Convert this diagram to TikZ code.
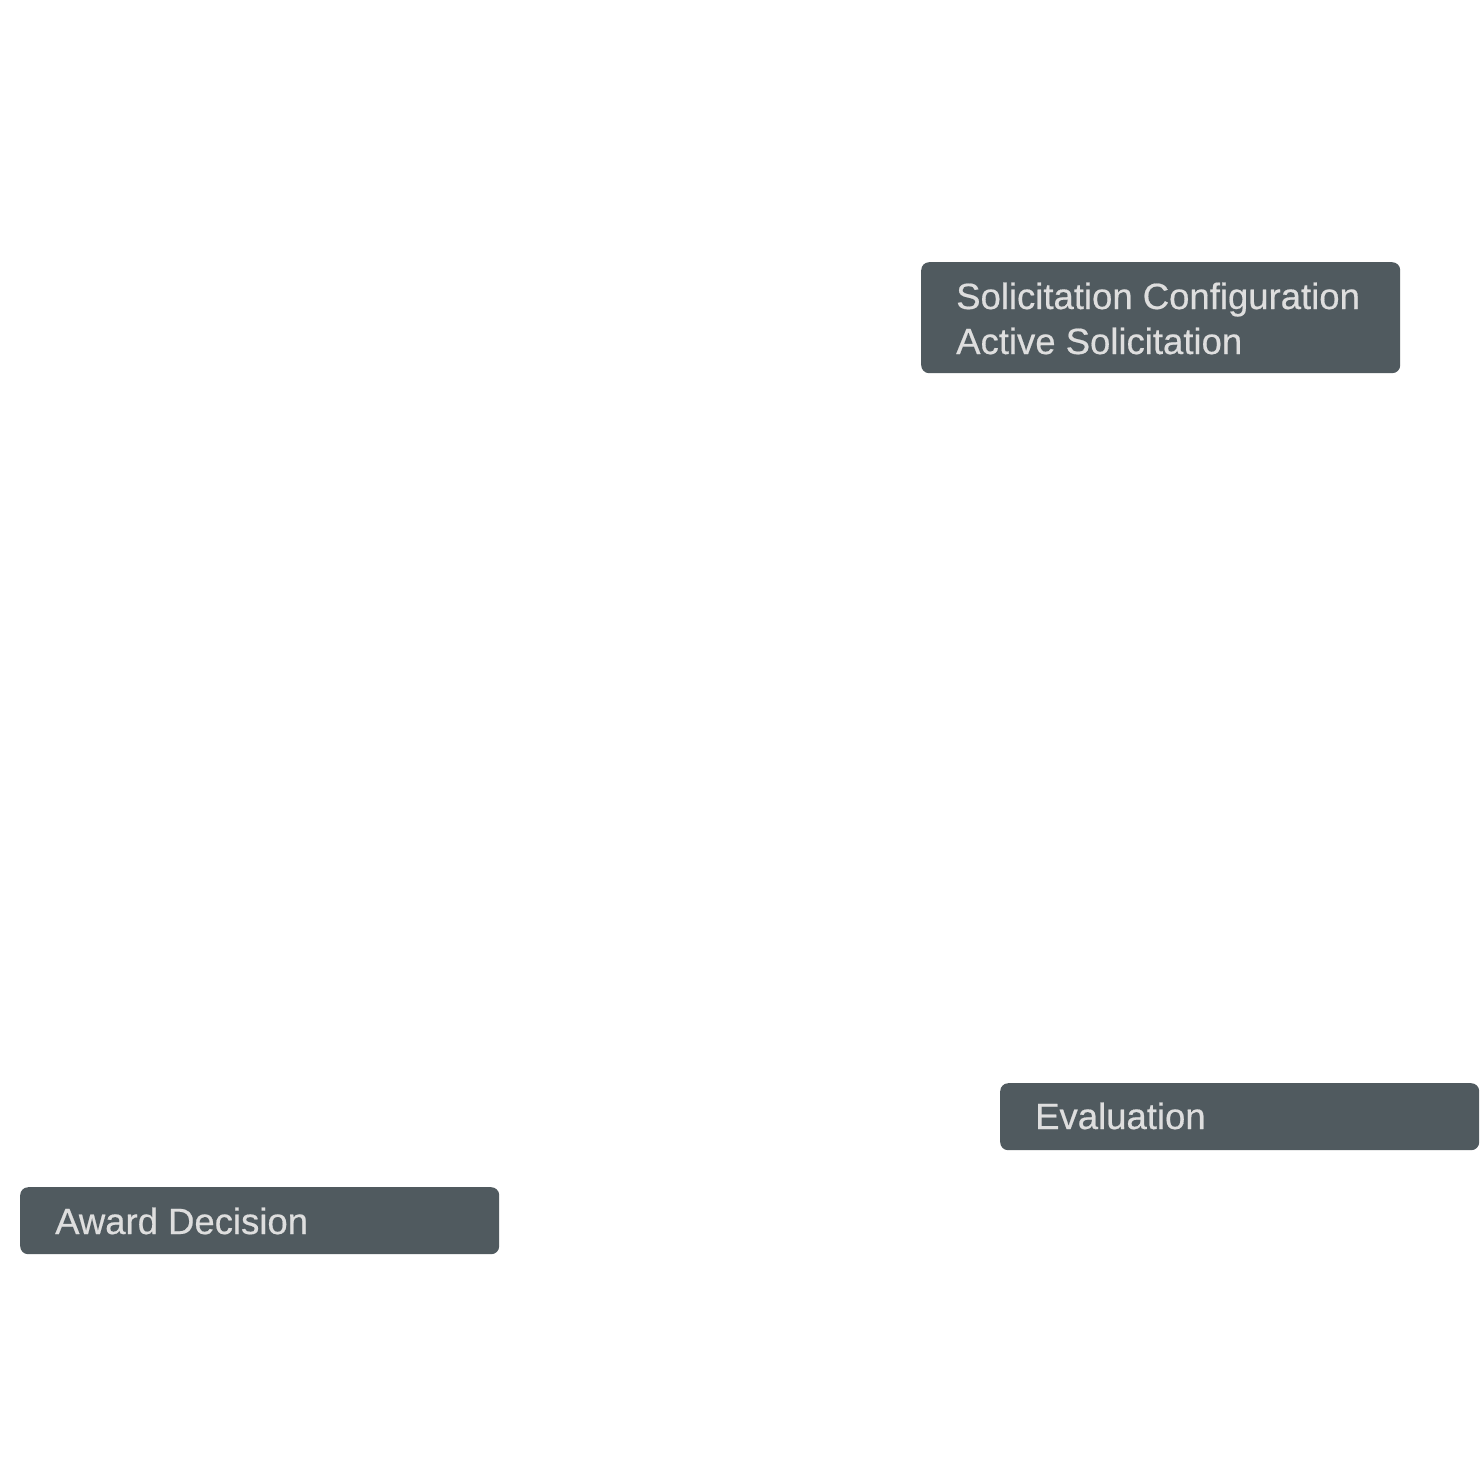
\documentclass[tikz,border=0pt]{standalone}
\usepackage{fontspec}
\setmainfont{Liberation Sans}[UprightFeatures={FakeBold=0.5}]
\definecolor{boxfill}{HTML}{505A5F}
\definecolor{boxtext}{HTML}{DEDEDE}
\begin{document}
\begin{tikzpicture}[x=1pt,y=-1pt,
  stagebox/.style={fill=boxfill,draw=none,rounded corners=8pt,anchor=north west,inner sep=0pt},
  stagetext/.style={text=boxtext,anchor=base west,inner sep=0pt,font=\fontsize{36.5}{45}\selectfont}]
\useasboundingbox[fill=white] (0,0) rectangle (1480,1480);
\node[stagebox,minimum width=479pt,minimum height=111pt] (sol) at (921,262) {};
\node[stagebox,minimum width=479pt,minimum height=67pt] (eval) at (1000,1083) {};
\node[stagebox,minimum width=479pt,minimum height=67pt] (award) at (20,1187) {};
\node[stagetext] (solA) at (956,309) {Solicitation Configuration};
\node[stagetext] (solB) at (956,354) {Active Solicitation};
\node[stagetext] (evalT) at (1035,1129) {Evaluation};
\node[stagetext] (awardT) at (55,1234) {Award Decision};
\end{tikzpicture}
\end{document}
